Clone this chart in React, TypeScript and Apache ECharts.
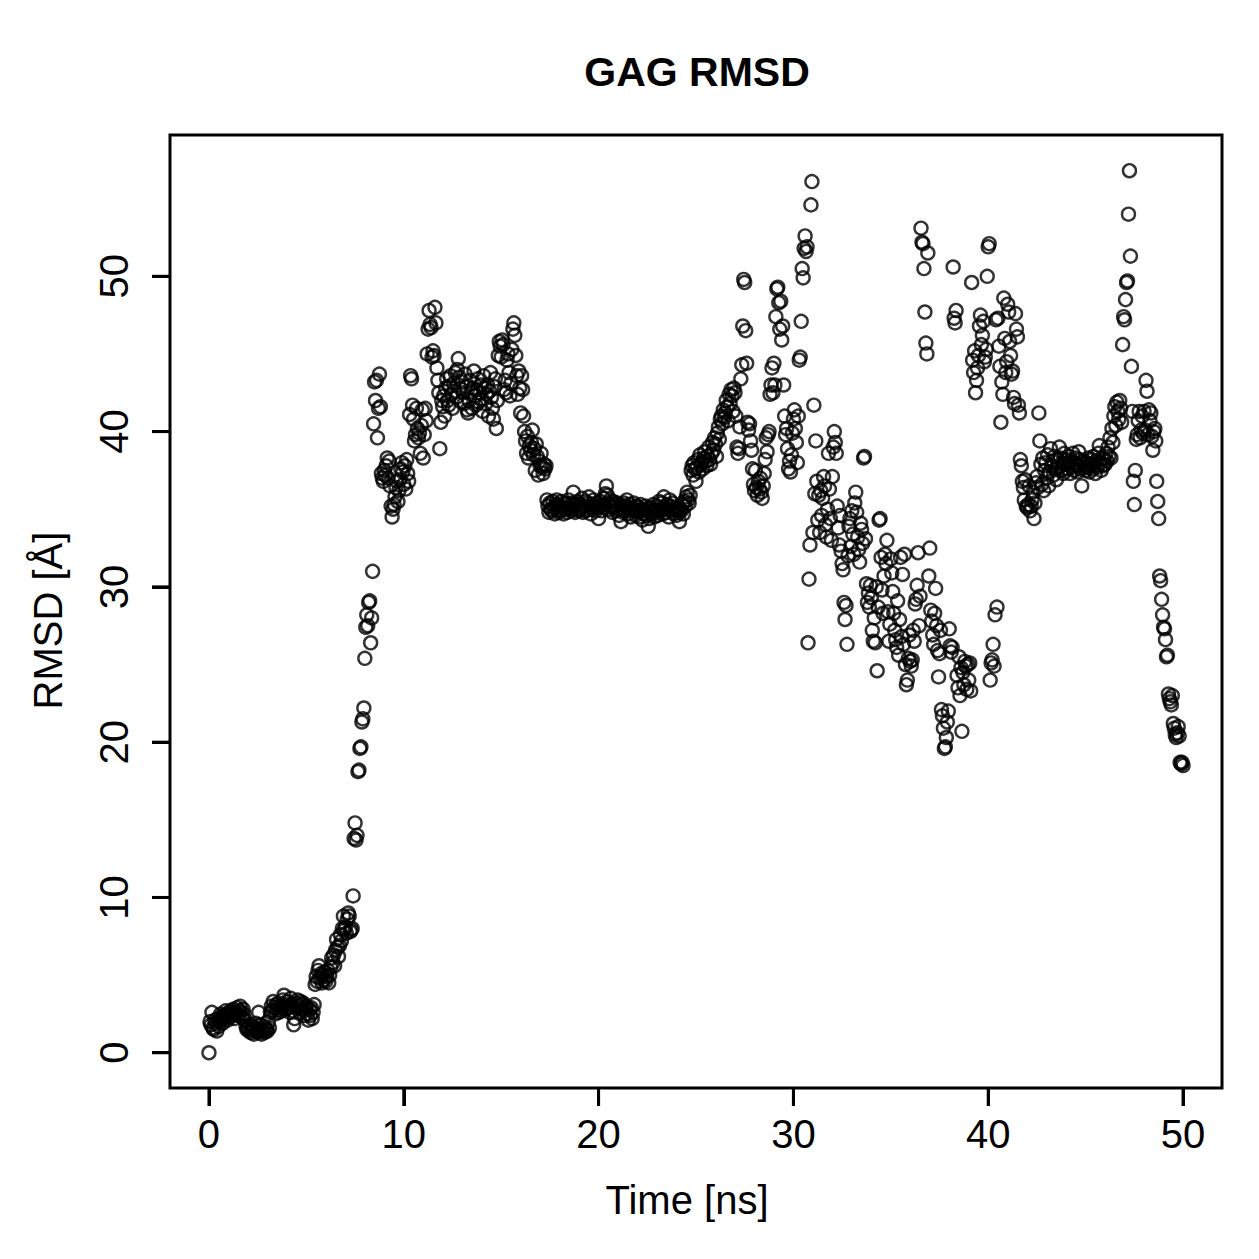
import React, { useEffect, useRef } from "react";
import * as echarts from "echarts";

// Sampling interval of the trajectory (ns)
const TIME_STEP_NS = 0.05;

// RMSD values [Å], one per frame
const rmsd0to10 = [
  0.0, 2.0, 1.8, 2.6, 1.6, 1.5, 2.1, 1.9, 1.4, 2.2, 1.7, 2.0, 2.5, 2.3, 1.9, 2.4, 2.2, 2.7, 2.5, 2.1,
  2.5, 2.3, 2.7, 2.6, 2.4, 2.8, 2.2, 2.5, 2.6, 2.9, 2.4, 2.7, 3.0, 2.6, 2.3, 2.8, 2.5, 2.1, 1.7, 1.5,
  1.6, 1.4, 1.8, 1.3, 1.5, 1.7, 1.2, 1.6, 1.9, 1.4, 1.3, 2.6, 1.5, 1.8, 1.2, 1.4, 1.7, 1.3, 1.6, 1.5,
  1.4, 2.0, 1.6, 2.6, 3.0, 2.7, 3.3, 2.9, 2.5, 3.1, 2.8, 3.2, 2.6, 3.0, 2.7, 2.9, 3.4, 3.7, 3.1, 2.8,
  3.3, 2.9, 3.0, 2.6, 3.5, 3.1, 2.7, 1.8, 2.2, 3.2, 2.9, 3.4, 3.0, 2.6, 3.3, 3.1, 2.8, 3.2, 2.4, 2.9,
  3.0, 2.5, 2.1, 2.8, 2.4, 2.9, 2.2, 2.6, 3.1, 4.4, 4.9, 4.6, 5.3, 5.6, 4.8, 5.1, 4.5, 5.0, 4.7, 5.2,
  4.6, 4.9, 5.3, 4.5, 5.0, 5.5, 6.1, 5.8, 6.3, 5.6, 6.6, 7.3, 6.8, 6.2, 6.9, 7.6, 7.2, 8.0, 8.8, 7.9,
  8.1, 7.7, 8.6, 9.0, 8.8, 7.8, 7.9, 8.0, 10.1, 13.8, 14.8, 13.7, 14.0, 18.1, 18.2, 19.6, 19.7, 21.3, 21.5, 22.2,
  25.4, 27.4, 28.2, 27.5, 29.0, 29.1, 26.4, 28.0, 31.0, 40.5, 43.2, 42.0, 43.3, 39.6, 41.5, 43.7, 41.6, 37.3, 37.0, 36.8,
  37.5, 37.2, 37.8, 38.3, 37.0, 38.1, 36.5, 35.2, 34.5, 35.0, 35.3, 35.8, 36.4, 36.8, 35.5, 36.2, 36.9, 37.6, 38.0, 37.4,
];

const rmsd10to20 = [
  36.6, 37.8, 36.3, 38.2, 37.3, 36.8, 41.1, 43.6, 43.4, 41.7, 40.8, 39.4, 39.8, 41.5, 40.2, 39.6, 39.9, 38.6, 40.4, 41.4,
  38.3, 39.8, 41.5, 40.7, 45.0, 46.6, 47.8, 46.9, 46.7, 44.8, 45.2, 44.9, 48.0, 47.0, 44.1, 43.3, 42.5, 38.9, 40.6, 42.0,
  41.6, 42.3, 41.0, 42.8, 43.4, 42.0, 41.7, 42.9, 43.6, 42.4, 41.5, 43.1, 42.6, 43.8, 42.2, 44.0, 44.7, 43.5, 42.8, 41.9,
  43.2, 42.5, 41.8, 43.7, 42.9, 41.4, 41.2, 42.0, 43.3, 42.6, 41.5, 42.8, 43.9, 42.3, 41.7, 42.7, 43.4, 41.9, 42.5, 43.0,
  42.1, 41.3, 43.6, 42.8, 41.8, 42.4, 43.0, 41.0, 42.6, 43.8, 42.2, 41.5, 40.8, 42.9, 43.4, 40.2, 42.0, 44.9, 45.8, 45.5,
  44.8, 45.9, 45.6, 42.7, 43.3, 42.5, 44.6, 45.0, 43.8, 42.3, 43.1, 45.3, 46.6, 47.0, 46.2, 44.9, 43.6, 42.4, 43.9, 42.8,
  41.2, 43.6, 42.7, 41.0, 40.0, 39.4, 38.6, 39.7, 38.3, 39.1, 38.8, 39.3, 40.1, 38.5, 38.9, 37.5, 39.2, 38.4, 37.2, 38.1,
  37.8, 38.6, 37.7, 37.3, 37.9, 37.6, 37.8, 35.6, 35.2, 34.8, 35.4, 35.0, 34.9, 35.5, 35.1, 34.7, 35.3, 35.6, 35.0, 34.8,
  35.2, 34.9, 35.5, 35.1, 34.7, 35.4, 35.0, 35.3, 34.8, 35.6, 35.1, 35.0, 34.9, 35.4, 36.1, 35.2, 34.8, 35.3, 35.5, 35.0,
  34.9, 35.3, 35.1, 35.7, 34.8, 35.2, 35.5, 34.9, 35.0, 35.4, 35.8, 35.1, 34.7, 35.3, 35.0, 35.6, 35.2, 34.9, 35.4, 35.1,
];

const rmsd20to30 = [
  34.4, 35.2, 35.5, 34.9, 35.3, 35.7, 35.1, 36.0, 36.5, 35.9, 35.4, 35.0, 35.6, 35.2, 34.8, 35.5, 35.1, 35.3, 34.9, 35.4,
  35.0, 34.6, 35.3, 34.2, 35.1, 34.8, 35.4, 34.9, 35.2, 35.6, 34.7, 35.0, 35.3, 34.5, 35.1, 34.9, 35.4, 35.0, 34.6, 35.2,
  34.8, 35.1, 34.5, 35.3, 34.9, 34.3, 35.0, 34.7, 35.2, 34.6, 35.0, 33.9, 34.4, 35.1, 34.7, 34.9, 35.3, 34.5, 35.0, 34.8,
  35.2, 34.6, 35.5, 34.9, 35.0, 35.4, 34.7, 35.8, 35.1, 34.8, 35.3, 35.0, 34.5, 35.6, 35.2, 34.9, 35.4, 34.7, 35.1, 35.0,
  34.6, 35.1, 34.8, 34.2, 35.0, 34.9, 35.3, 34.7, 35.5, 35.2, 35.8, 36.1, 35.6, 35.4, 35.9, 37.5, 37.8, 37.2, 38.0, 37.6,
  36.8, 37.7, 38.2, 37.4, 38.5, 37.9, 38.0, 37.6, 38.3, 38.7, 38.1, 37.8, 38.4, 39.0, 38.2, 37.9, 38.6, 39.3, 38.8, 39.6,
  39.2, 38.4, 39.9, 40.3, 39.5, 40.8, 41.0, 40.5, 41.4, 40.9, 41.2, 42.0, 41.6, 40.7, 42.4, 41.8, 42.7, 42.3, 41.3, 42.8,
  42.5, 41.0, 39.0, 38.6, 38.9, 40.3, 43.4, 44.3, 46.8, 49.8, 49.6, 46.5, 44.4, 40.6, 40.1, 40.5, 39.4, 38.8, 37.6, 36.6,
  36.2, 37.5, 36.4, 35.9, 36.8, 36.3, 37.0, 36.1, 35.7, 36.5, 37.3, 38.2, 39.6, 38.7, 39.8, 40.0, 42.4, 43.0, 44.1, 42.5,
  44.4, 43.0, 47.4, 49.2, 49.3, 48.3, 46.6, 48.4, 45.9, 46.8, 43.0, 41.0, 39.8, 40.2, 38.9, 37.6, 38.1, 37.4, 38.5, 39.9,
];

const rmsd30to40 = [
  40.8, 41.4, 40.2, 39.3, 38.0, 41.0, 44.6, 44.8, 47.1, 50.5, 49.9, 51.8, 52.6, 51.6, 51.9, 26.4, 30.5, 32.7, 54.6, 56.1,
  33.5, 41.7, 36.0, 39.4, 36.8, 34.3, 35.9, 33.5, 36.2, 34.6, 35.7, 37.1, 36.5, 34.0, 33.2, 35.0, 38.6, 36.3, 34.4, 33.0,
  37.1, 39.0, 40.0, 39.3, 38.6, 35.2, 33.8, 32.7, 34.6, 32.3, 31.5, 31.1, 29.0, 27.9, 28.8, 26.3, 32.0, 33.9, 34.4, 32.6,
  34.9, 33.4, 32.1, 35.4, 36.1, 34.8, 33.2, 32.4, 31.6, 34.1, 33.7, 32.8, 38.3, 38.4, 33.1, 30.2, 29.0, 29.6, 28.7, 30.1,
  29.3, 27.2, 26.5, 28.0, 26.4, 30.0, 24.6, 28.7, 34.3, 34.4, 31.9, 29.8, 28.3, 30.7, 32.1, 31.5, 33.0, 28.4, 26.5, 27.6,
  31.8, 30.9, 29.7, 28.3, 27.2, 26.6, 26.1, 29.1, 25.6, 27.9, 31.9, 26.8, 30.8, 26.3, 32.1, 25.0, 23.7, 24.0, 25.4, 26.9,
  25.2, 24.9, 25.3, 27.2, 26.5, 28.9, 29.2, 30.1, 32.2, 27.5, 29.4, 53.1, 52.2, 52.1, 50.5, 47.7, 45.7, 45.0, 51.5, 30.7,
  32.5, 28.5, 27.8, 26.9, 26.3, 28.3, 29.9, 27.5, 25.9, 24.2, 25.7, 27.2, 22.1, 21.7, 20.9, 19.6, 19.7, 20.3, 21.3, 22.0,
  27.3, 26.2, 25.8, 26.1, 50.6, 47.3, 47.0, 47.8, 24.3, 23.5, 25.5, 23.0, 24.8, 20.7, 24.5, 23.7, 25.2, 24.9, 23.4, 25.0,
  24.0, 25.1, 23.3, 49.6, 44.6, 43.8, 45.2, 42.5, 43.3, 44.1, 44.9, 46.8, 47.5, 45.6, 46.2, 47.1, 44.5, 44.8, 45.3, 50.0,
];

const rmsd40to50 = [
  51.9, 52.1, 24.0, 25.1, 25.3, 26.3, 24.9, 28.2, 47.2, 28.7, 47.3, 45.5, 44.2, 40.6, 43.2, 42.4, 48.6, 46.0, 43.8, 44.5,
  48.2, 47.7, 45.8, 44.9, 43.7, 43.9, 42.2, 41.8, 47.6, 46.6, 46.1, 41.7, 41.2, 38.2, 37.8, 36.8, 36.4, 35.6, 36.9, 35.2,
  35.1, 35.3, 36.5, 34.9, 35.2, 35.6, 36.1, 34.4, 35.4, 36.7, 37.1, 36.4, 41.2, 39.4, 37.9, 36.6, 38.3, 36.2, 37.5, 38.0,
  37.0, 38.5, 36.5, 37.4, 38.9, 37.8, 38.1, 37.2, 38.4, 37.6, 36.9, 38.2, 37.7, 39.0, 38.3, 37.5, 38.0, 37.3, 38.6, 37.9,
  38.2, 37.6, 37.9, 38.4, 37.3, 38.1, 37.7, 38.6, 37.5, 38.0, 38.3, 37.8, 37.4, 38.7, 38.2, 37.6, 36.5, 37.9, 38.1, 37.7,
  37.5, 38.0, 37.7, 38.3, 37.4, 37.9, 38.2, 37.6, 38.4, 37.8, 37.3, 38.1, 37.7, 38.6, 39.1, 38.0, 37.5, 38.3, 37.8, 38.2,
  37.9, 38.6, 38.1, 39.0, 38.4, 39.6, 38.3, 40.2, 39.3, 41.0, 41.6, 40.4, 41.9, 41.3, 40.8, 42.0, 41.5, 40.6, 45.6, 47.4,
  47.2, 48.5, 49.6, 49.7, 54.0, 56.8, 51.3, 44.2, 41.3, 36.8, 35.3, 37.5, 39.5, 39.8, 40.7, 41.3, 39.6, 40.1, 41.0, 39.9,
  41.3, 40.1, 43.3, 42.6, 39.8, 41.4, 40.7, 41.2, 39.7, 38.8, 40.0, 40.2, 39.4, 36.8, 35.5, 34.4, 30.7, 30.4, 29.2, 28.2,
  27.4, 27.3, 26.6, 25.5, 25.6, 23.1, 22.8, 22.6, 22.4, 23.0, 21.2, 20.9, 20.5, 20.3, 20.6, 21.0, 20.4, 18.7, 18.6, 18.7,
  18.5,
];

// Plot-box ranges (R-style 4% padding) and tick values
const xRange = [-2, 52];
const yRange = [-2.27, 59.1];
const xTicks = [0, 10, 20, 30, 40, 50];
const yTicks = [0, 10, 20, 30, 40, 50];

const titleText = "GAG RMSD";
const xLabel = "Time [ns]";
const yLabel = "RMSD [Å]";

const FONT = "'Liberation Sans', Arial, Helvetica, sans-serif";

const W = 1259;
const H = 1259;
const TICK_LEN = 18;
// Plot box in pixels
const BOX = { left: 170, top: 135, right: 1222, bottom: 1088 };

export default function App() {
  const ref = useRef<HTMLDivElement>(null);

  useEffect(() => {
    if (!ref.current) return;
    const chart = echarts.init(ref.current, undefined, { renderer: "svg" });
    const rmsd = [...rmsd0to10, ...rmsd10to20, ...rmsd20to30, ...rmsd30to40, ...rmsd40to50];
    const points = rmsd.map((v, i) => [Number((i * TIME_STEP_NS).toFixed(2)), v]);

    // The data grid extends TICK_LEN px beyond the box on the left and bottom so that
    // inward ticks at the grid edge hang outside the drawn box (as in R).
    const xPerPx = (xRange[1] - xRange[0]) / (BOX.right - BOX.left);
    const yPerPx = (yRange[1] - yRange[0]) / (BOX.bottom - BOX.top);
    const xMin = xRange[0] - TICK_LEN * xPerPx;
    const yMin = yRange[0] - TICK_LEN * yPerPx;

    const labelFont = { fontSize: 40, color: "#000", fontFamily: FONT };
    const tick = { show: true, inside: true, length: TICK_LEN, lineStyle: { color: "#000", width: 3 } };

    chart.setOption({
      animation: false,
      backgroundColor: "#ffffff",
      title: {
        text: titleText,
        left: 692,
        top: 46,
        textAlign: "center",
        textStyle: { fontFamily: FONT, fontSize: 41, fontWeight: "bold", color: "#000" },
      },
      grid: [
        {
          left: BOX.left - TICK_LEN,
          top: BOX.top,
          right: W - BOX.right,
          bottom: H - BOX.bottom - TICK_LEN,
          show: false,
        },
        {
          left: BOX.left,
          top: BOX.top,
          right: W - BOX.right,
          bottom: H - BOX.bottom,
          show: true,
          borderColor: "#000",
          borderWidth: 3,
          backgroundColor: "transparent",
        },
      ],
      xAxis: [
        {
          gridIndex: 0,
          type: "value",
          min: xMin,
          max: xRange[1],
          splitLine: { show: false },
          axisLine: { show: false, onZero: false },
          axisTick: { ...tick, customValues: xTicks },
          axisLabel: { ...labelFont, customValues: xTicks, margin: 8 },
          name: xLabel,
          nameLocation: "middle",
          nameGap: 74,
          nameTextStyle: labelFont,
        },
        { gridIndex: 1, type: "value", min: 1, max: 2, show: false },
      ],
      yAxis: [
        {
          gridIndex: 0,
          type: "value",
          min: yMin,
          max: yRange[1],
          splitLine: { show: false },
          axisLine: { show: false, onZero: false },
          axisTick: { ...tick, customValues: yTicks },
          axisLabel: { ...labelFont, customValues: yTicks, rotate: 90, margin: 18 },
          name: yLabel,
          nameLocation: "middle",
          nameRotate: 90,
          nameGap: 84,
          nameTextStyle: labelFont,
        },
        { gridIndex: 1, type: "value", min: 1, max: 2, show: false },
      ],
      series: [
        {
          type: "scatter",
          xAxisIndex: 0,
          yAxisIndex: 0,
          data: points,
          symbol: "circle",
          symbolSize: 13,
          itemStyle: { color: "rgba(0,0,0,0)", borderColor: "#000", borderWidth: 2.4 },
          emphasis: { disabled: true },
        },
      ],
    });

    // Backup tick marks placed through the same scales
    const tickLines: any[] = [];
    xTicks.forEach((v) => {
      const p = chart.convertToPixel({ gridIndex: 0 }, [v, yRange[0]]) as number[];
      if (p) {
        tickLines.push({
          type: "line",
          silent: true,
          shape: { x1: p[0], y1: p[1], x2: p[0], y2: p[1] + TICK_LEN },
          style: { stroke: "#000", lineWidth: 3 },
        });
      }
    });
    yTicks.forEach((v) => {
      const p = chart.convertToPixel({ gridIndex: 0 }, [xRange[0], v]) as number[];
      if (p) {
        tickLines.push({
          type: "line",
          silent: true,
          shape: { x1: p[0], y1: p[1], x2: p[0] - TICK_LEN, y2: p[1] },
          style: { stroke: "#000", lineWidth: 3 },
        });
      }
    });
    chart.setOption({ graphic: tickLines });

    return () => chart.dispose();
  }, []);

  return (
    <div
      ref={ref}
      style={{ position: "absolute", left: 0, top: 0, width: W, height: H, background: "#fff" }}
    />
  );
}
